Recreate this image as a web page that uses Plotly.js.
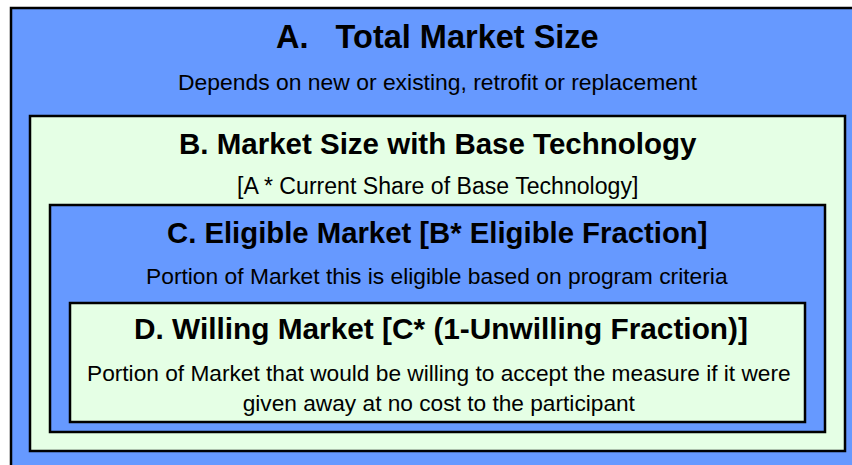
<!DOCTYPE html>
<html><head><meta charset="utf-8">
<script src="https://cdn.plot.ly/plotly-3.0.1.min.js"></script>
<style>html,body{margin:0;padding:0;background:#fff}#chart{width:852px;height:465px}</style>
</head><body><div id="chart"></div>
<script>
// Nested market boxes (A outermost .. D innermost), in chart units (pixel grid)
const boxNames = ['A', 'B', 'C', 'D'];
const boxLeft = [11, 30, 50, 70];
const boxRight = [880, 845, 825, 805];
const boxTop = [8, 116, 205, 303];
const boxBottom = [490, 451, 432, 422];
const boxFill = ['#6699FF', '#E5FFE5', '#6699FF', '#E5FFE5'];

const titles = [
  'A.   Total Market Size',
  'B. Market Size with Base Technology',
  'C. Eligible Market [B* Eligible Fraction]',
  'D. Willing Market [C* (1-Unwilling Fraction)]'
];
const subtitles = [
  'Depends on new or existing, retrofit or replacement',
  '[A * Current Share of Base Technology]',
  'Portion of Market this is eligible based on program criteria',
  'Portion of Market that would be willing to accept the measure if it were<br>given away at no cost to the participant'
];
const titleY = [37, 143, 232, 328];
const subtitleY = [82, 186, 276, 388];
const titleX = [437, 438, 437, 441];
const subtitleX = [438, 437, 437, 439];

const shapes = boxNames.map((n, i) => ({
  type: 'rect', xref: 'x', yref: 'y',
  x0: boxLeft[i], x1: boxRight[i], y0: boxTop[i], y1: boxBottom[i],
  fillcolor: boxFill[i], line: {color: '#000', width: 2.5}, layer: 'below'
}));

const font = 'Liberation Sans, Arial, sans-serif';
const titleSize = [32.5, 29.5, 29.3, 29.8];
const subSize = [22.9, 23.1, 22.8, 22.7];
const annotations = [];
titles.forEach((t, i) => {
  annotations.push({x: titleX[i], y: titleY[i], xref: 'x', yref: 'y', text: '<b>' + t + '</b>',
    showarrow: false, xanchor: 'center', yanchor: 'middle',
    font: {family: font, size: titleSize[i], color: '#000'}});
  annotations.push({x: subtitleX[i], y: subtitleY[i], xref: 'x', yref: 'y', text: subtitles[i],
    showarrow: false, xanchor: 'center', yanchor: 'middle',
    font: {family: font, size: subSize[i], color: '#000'}});
});

const layout = {
  width: 852, height: 465,
  margin: {l: 0, r: 0, t: 0, b: 0},
  paper_bgcolor: '#fff', plot_bgcolor: '#fff',
  xaxis: {range: [0, 852], visible: false, fixedrange: true},
  yaxis: {range: [465, 0], visible: false, fixedrange: true},
  shapes: shapes, annotations: annotations, showlegend: false
};
Plotly.newPlot('chart', [{x: [], y: [], type: 'scatter'}], layout, {staticPlot: true, displayModeBar: false});
</script></body></html>
